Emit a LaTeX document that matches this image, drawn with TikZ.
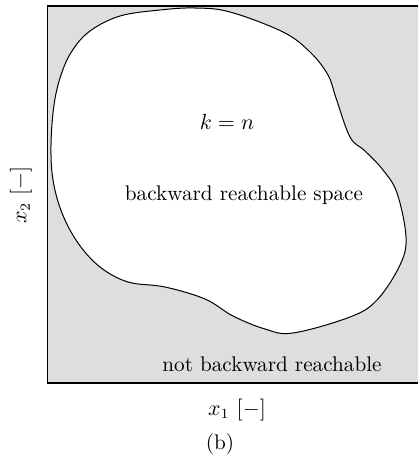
\documentclass[tikz,border=0pt]{standalone}
\usepackage{tikz}

\begin{document}
\begin{tikzpicture}[
  x=0.5pt, y=-0.5pt,
  font=\fontsize{10.6pt}{13pt}\selectfont,
  region/.style={fill=black!13, draw=none},
  frame/.style={line width=0.8pt},
  blob/.style={draw, line width=0.5pt, fill=white},
  lbl/.style={inner sep=0pt, anchor=center},
]
  \useasboundingbox (0,0) rectangle (418,459);

  % state space and its boundary
  \fill[region] (47.5,6) rectangle (418,383);
  \draw[frame] (418,6) -- (47.5,6) -- (47.5,383) -- (418,383);

  % backward reachable set
  \draw[blob] plot[smooth cycle, tension=0.6] coordinates {
    (51,145) (54,105) (61,75) (72,51) (90,31) (120,16) (160,10) (195,8)
    (230,12) (283,32) (310,52) (328,75) (336,98) (350,137) (365,151)
    (383,170) (397,193) (406,237) (400,265) (377,300) (350,317)
    (293,333) (265,329) (233,316) (205,299) (165,287) (128,282)
    (100,267) (78,243) (62,213) (53,180)};

  \node[lbl] (kn) at (227,122) {$k=n$};
  \node[lbl] (brs) at (244,195) {backward reachable space};
  \node[lbl] (nbr) at (272,364) {not backward reachable};

  \node[lbl] (xlab) at (237,410) {$x_1$ $[-]$};
  \node[lbl, rotate=90] (ylab) at (21,195) {$x_2$ $[-]$};
  \node[lbl] (cap) at (220,444) {(b)};
\end{tikzpicture}
\end{document}
